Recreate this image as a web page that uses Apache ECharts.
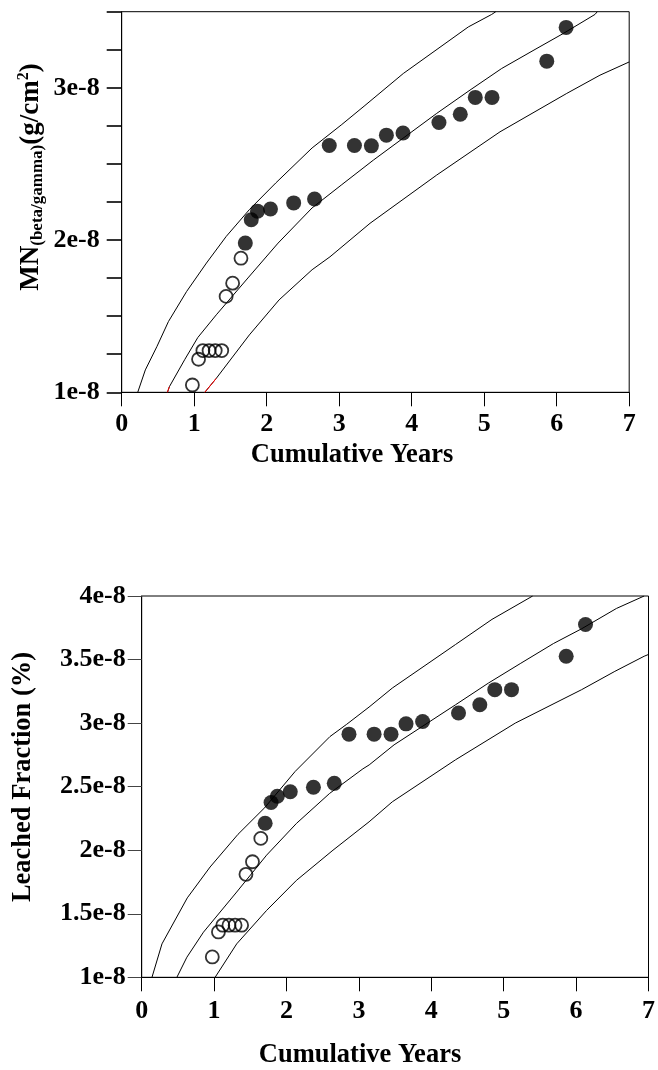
<!DOCTYPE html>
<html><head><meta charset="utf-8">
<script src="https://cdn.jsdelivr.net/npm/echarts@6/dist/echarts.min.js"></script>
<style>html,body{margin:0;padding:0;background:#fff}#c{width:658px;height:1070px}</style>
</head><body><div id="c"></div>
<script>
// ---- data ----
const xTicks = [0, 1, 2, 3, 4, 5, 6, 7];
const openX = [0.975, 1.06, 1.12, 1.205, 1.29, 1.38, 1.44, 1.53, 1.645];
const openTop = [1.048e-8, 1.217e-8, 1.274e-8, 1.274e-8, 1.274e-8, 1.274e-8, 1.630e-8, 1.717e-8, 1.881e-8];
const openBottom = [1.16e-8, 1.357e-8, 1.41e-8, 1.41e-8, 1.41e-8, 1.41e-8, 1.81e-8, 1.909e-8, 2.093e-8];
const filledX = [1.705, 1.787, 1.873, 2.052, 2.372, 2.66, 2.863, 3.21, 3.444, 3.651, 3.88, 4.376, 4.67, 4.877, 5.108, 5.863, 6.13];
const filledTop = [1.98e-8, 2.133e-8, 2.19e-8, 2.204e-8, 2.244e-8, 2.27e-8, 2.621e-8, 2.621e-8, 2.619e-8, 2.689e-8, 2.703e-8, 2.772e-8, 2.826e-8, 2.937e-8, 2.937e-8, 3.175e-8, 3.397e-8];
const filledBottom = [2.212e-8, 2.375e-8, 2.425e-8, 2.46e-8, 2.495e-8, 2.526e-8, 2.913e-8, 2.913e-8, 2.913e-8, 2.994e-8, 3.013e-8, 3.079e-8, 3.144e-8, 3.263e-8, 3.263e-8, 3.526e-8, 3.776e-8];

const upperTop = [[0.221,1.0e-8],[0.326,1.147e-8],[0.485,1.30e-8],[0.645,1.465e-8],[0.895,1.662e-8],[1.169,1.849e-8],[1.442,2.024e-8],[1.761,2.2e-8],[2.125,2.375e-8],[2.626,2.605e-8],[3.036,2.759e-8],[3.355,2.884e-8],[3.884,3.094e-8],[4.781,3.40e-8],[5.103,3.482e-8],[5.16,3.5e-8]];
const midTop = [[0.631,1.0e-8],[0.658,1.037e-8],[0.872,1.217e-8],[1.05,1.36e-8],[1.305,1.509e-8],[1.752,1.757e-8],[2.157,1.98e-8],[2.626,2.211e-8],[3.036,2.364e-8],[3.471,2.525e-8],[4.345,2.832e-8],[4.804,2.985e-8],[5.241,3.127e-8],[5.701,3.252e-8],[6.091,3.357e-8],[6.528,3.482e-8],[6.56,3.5e-8]];
const lowerTop = [[1.146,1.0e-8],[1.305,1.092e-8],[1.761,1.377e-8],[2.171,1.607e-8],[2.626,1.805e-8],[2.873,1.89e-8],[3.425,2.11e-8],[4.345,2.427e-8],[5.218,2.711e-8],[6.138,2.963e-8],[6.597,3.083e-8],[7.0,3.17e-8]];

const upperBottom = [[0.142,1.0e-8],[0.28,1.263e-8],[0.63,1.625e-8],[0.945,1.868e-8],[1.33,2.125e-8],[1.70,2.335e-8],[2.12,2.62e-8],[2.60,2.894e-8],[2.83,2.99e-8],[3.14,3.126e-8],[3.462,3.276e-8],[4.334,3.618e-8],[4.838,3.816e-8],[5.40,4.0e-8]];
const midBottom = [[0.486,1.0e-8],[0.624,1.158e-8],[0.853,1.355e-8],[1.312,1.671e-8],[1.725,1.961e-8],[2.138,2.211e-8],[2.596,2.447e-8],[3.055,2.64e-8],[3.142,2.671e-8],[3.486,2.829e-8],[4.334,3.144e-8],[4.792,3.316e-8],[5.228,3.468e-8],[5.687,3.626e-8],[6.076,3.742e-8],[6.557,3.902e-8],[6.94,4.0e-8]];
const lowerBottom = [[1.014,1.0e-8],[1.312,1.263e-8],[1.725,1.526e-8],[2.138,1.763e-8],[2.642,2.0e-8],[3.14,2.223e-8],[3.462,2.381e-8],[4.334,2.711e-8],[5.16,3.0e-8],[6.076,3.263e-8],[6.535,3.407e-8],[6.94,3.526e-8],[7.0,3.54e-8]];

const xTitle = 'Cumulative Years';
const yTitleBottom = 'Leached Fraction (%)';

// ---- chart ----
const FONT = '"Liberation Serif","Times New Roman",serif';
const chart = echarts.init(document.getElementById('c'), null, {renderer: 'canvas'});
const pairs = (xs, ys) => xs.map((x, i) => [x, ys[i]]);
const lbl = {fontFamily: FONT, fontWeight: 'bold', fontSize: 26, color: '#000'};
const curve = (data, g) => ({type: 'line', xAxisIndex: g, yAxisIndex: g, data, showSymbol: false, symbol: 'none',
  lineStyle: {color: '#000', width: 1}, clip: true, z: 2, silent: true});
const red = (data, g) => ({type: 'line', xAxisIndex: g, yAxisIndex: g, data, showSymbol: false, symbol: 'none',
  lineStyle: {color: '#ff0000', width: 1}, clip: false, z: 3, silent: true});
const openS = (ys, g) => ({type: 'scatter', xAxisIndex: g, yAxisIndex: g, data: pairs(openX, ys), symbol: 'circle', symbolSize: 13,
  itemStyle: {color: 'rgba(0,0,0,0)', borderColor: '#000', borderWidth: 1.8}, z: 4});
const fillS = (ys, g) => ({type: 'scatter', xAxisIndex: g, yAxisIndex: g, data: pairs(filledX, ys), symbol: 'circle', symbolSize: 15,
  itemStyle: {color: '#000'}, z: 5});

const xAxisCfg = (g, m) => ({type: 'value', gridIndex: g, min: xTicks[0], max: xTicks[xTicks.length - 1], interval: 1,
  axisLine: {show: true, onZero: false, lineStyle: {color: '#000', width: 1}},
  axisTick: {show: true, inside: false, length: 14, lineStyle: {color: '#000', width: 1}},
  axisLabel: Object.assign({margin: m}, lbl), splitLine: {show: false}});

chart.setOption({
  animation: false,
  backgroundColor: '#fff',
  grid: [
    {left: 121.7, top: 11.7, width: 507.5, height: 380.6, show: true, borderColor: '#000', borderWidth: 1, backgroundColor: 'transparent'},
    {left: 141.7, top: 596, width: 507.5, height: 381.3, show: true, borderColor: '#000', borderWidth: 1, backgroundColor: 'transparent'}
  ],
  xAxis: [xAxisCfg(0, 19), xAxisCfg(1, 21)],
  yAxis: [
    {type: 'value', gridIndex: 0, min: 1e-8, max: 3.5e-8, interval: 0.25e-8,
      axisLine: {show: true, onZero: false, lineStyle: {color: '#000', width: 1}},
      axisTick: {show: true, inside: false, length: 15, lineStyle: {color: '#000', width: 1.6}},
      axisLabel: Object.assign({margin: 22, formatter: v => {const n = v / 1e-8; const r = Math.round(n); return Math.abs(n - r) < 1e-6 ? r + 'e-8' : '';}}, lbl),
      splitLine: {show: false}},
    {type: 'value', gridIndex: 1, min: 1e-8, max: 4e-8, interval: 0.5e-8,
      axisLine: {show: true, onZero: false, lineStyle: {color: '#000', width: 1}},
      axisTick: {show: true, inside: false, length: 14, lineStyle: {color: '#444', width: 1}},
      axisLabel: Object.assign({margin: 16, padding: [10, 0, 0, 0], formatter: v => (Math.round(v / 1e-8 * 10) / 10) + 'e-8'}, lbl),
      splitLine: {show: false}}
  ],
  series: [
    curve(upperTop, 0), curve(midTop, 0), curve(lowerTop, 0),
    red(midTop.slice(0, 2), 0), red(lowerTop.slice(0, 2), 0),
    openS(openTop, 0), fillS(filledTop, 0),
    curve(upperBottom, 1), curve(midBottom, 1), curve(lowerBottom, 1),
    openS(openBottom, 1), fillS(filledBottom, 1)
  ],
  graphic: [
    {type: 'text', x: 352, y: 455, style: {text: xTitle, fontFamily: FONT, fontWeight: 'bold', fontSize: 26.5, fill: '#000', align: 'center', verticalAlign: 'middle', textAlign: 'center', textVerticalAlign: 'middle'}},
    {type: 'text', x: 360, y: 1055, style: {text: xTitle, fontFamily: FONT, fontWeight: 'bold', fontSize: 26.5, fill: '#000', align: 'center', verticalAlign: 'middle', textAlign: 'center', textVerticalAlign: 'middle'}},
    {type: 'text', x: 23, y: 777, rotation: Math.PI / 2, style: {text: yTitleBottom, fontFamily: FONT, fontWeight: 'bold', fontSize: 26.5, fill: '#000', align: 'center', verticalAlign: 'middle', textAlign: 'center', textVerticalAlign: 'middle'}},
    {type: 'text', x: 31, y: 177, rotation: Math.PI / 2, style: {
      text: '{a|MN}{b|(beta/gamma)}{a|(g/cm}{c|2}{a|)}', align: 'center', verticalAlign: 'middle', textAlign: 'center', textVerticalAlign: 'middle', fill: '#000',
      rich: {
        a: {fontFamily: FONT, fontWeight: 'bold', fontSize: 27, lineHeight: 30, fill: '#000', color: '#000'},
        b: {fontFamily: FONT, fontWeight: 'bold', fontSize: 17, lineHeight: 17, verticalAlign: 'bottom', padding: [10, 0, 0, 0], fill: '#000', color: '#000'},
        c: {fontFamily: FONT, fontWeight: 'bold', fontSize: 16, lineHeight: 16, verticalAlign: 'top', fill: '#000', color: '#000'}
      }}}
  ]
});
</script>
</body></html>
